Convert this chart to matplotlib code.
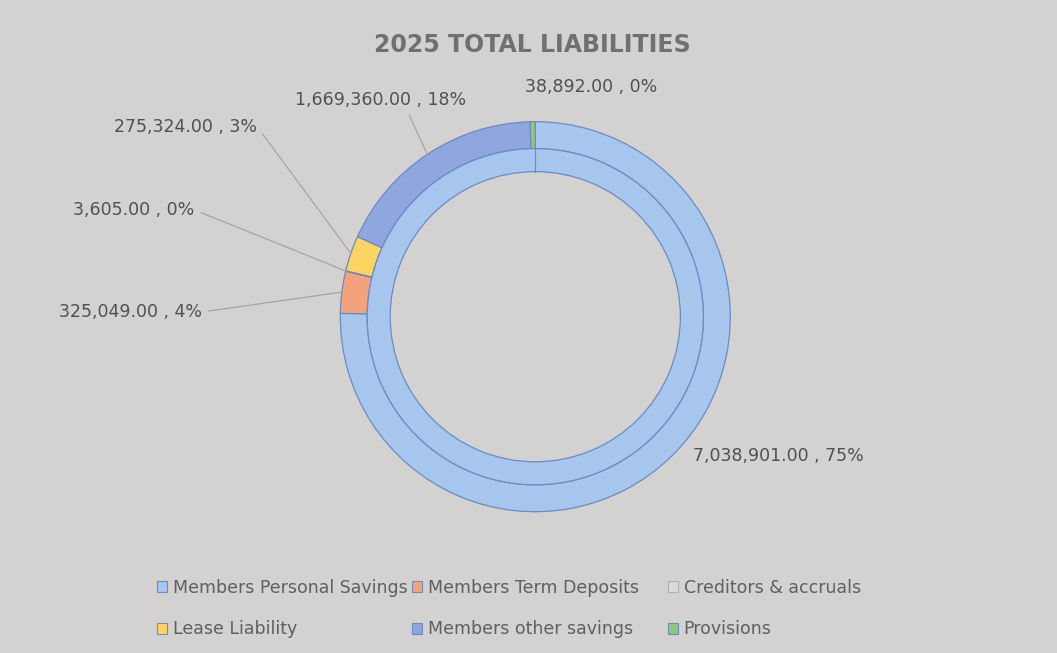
import matplotlib
matplotlib.use("Agg")
import matplotlib.pyplot as plt
from matplotlib.patches import Patch
import numpy as np

# Liability categories and their 2025 balances
categories = [
    "Members Personal Savings",
    "Members Term Deposits",
    "Creditors & accruals",
    "Lease Liability",
    "Members other savings",
    "Provisions",
]
values = [7038901.00, 325049.00, 3605.00, 275324.00, 1669360.00, 38892.00]
pct_labels = ["75%", "4%", "0%", "3%", "18%", "0%"]
colors = ["#a6c6ee", "#f3a27c", "#dcdada", "#fdd462", "#8fa6de", "#93c778"]

# Inner ring holds the overall total
inner_values = [sum(values)]

W, H, DPI = 1057, 653, 100
fig = plt.figure(figsize=(W / DPI, H / DPI), dpi=DPI)
bg = "#d4d1d1"
fig.patch.set_facecolor(bg)

# Axes covering the whole figure; 1 data unit = R pixels
cx, cy, R = 535.3, 316.7, 195.0
ax = fig.add_axes([0, 0, 1, 1])
ax.set_facecolor(bg)

edge = "#6a8bc4"
outer_w = 0.138
inner_r = 1.0 - outer_w
inner_w = 0.118

wedges, _ = ax.pie(values, radius=1.0, colors=colors, startangle=90,
                   counterclock=False,
                   wedgeprops=dict(width=outer_w, edgecolor=edge, linewidth=0.9))
inner_wedges, _ = ax.pie(inner_values, radius=inner_r, colors=[colors[0]],
                         startangle=90, counterclock=False,
                         wedgeprops=dict(width=inner_w, edgecolor=edge,
                                         linewidth=0.9))

# Seam of the full inner ring at its start angle
seam = np.deg2rad(inner_wedges[0].theta2)
ax.plot([(inner_r - inner_w) * np.cos(seam), inner_r * np.cos(seam)],
        [(inner_r - inner_w) * np.sin(seam), inner_r * np.sin(seam)],
        color=edge, lw=0.9)

ax.set_xlim(-cx / R, (W - cx) / R)
ax.set_ylim(-(H - cy) / R, cy / R)
ax.set_aspect("equal", adjustable="box")
ax.axis("off")

# Data labels: "value , percent" with grey leader lines
label_pos = [(1.249, -0.714), (-2.078, 0.024), (-2.058, 0.547),
             (-1.792, 0.973), (-0.792, 1.111), (0.284, 1.178)]
show_leader = [False, True, True, True, True, False]
leader_rel = [(0, 0.5), (1, 0.5), (1, 0.5), (1, 0.5), (0.65, 0.0), (0.5, 0)]
text_col = "#505050"
for w, v, p, pos, lead, rel in zip(wedges, values, pct_labels, label_pos,
                                   show_leader, leader_rel):
    mid = np.deg2rad((w.theta1 + w.theta2) / 2)
    xy = (np.cos(mid), np.sin(mid))
    txt = f"{v:,.2f} , {p}"
    arrow = dict(arrowstyle="-", color="#a5a5a5", lw=0.9,
                 shrinkA=3, shrinkB=0, relpos=rel) if lead else None
    ax.annotate(txt, xy=xy, xytext=pos, textcoords="data", ha="center",
                va="center", fontsize=12.5, color=text_col,
                arrowprops=arrow, annotation_clip=False)

fig.text(532 / W, 1 - 45 / H, "2025 TOTAL LIABILITIES", ha="center",
         va="center", fontsize=17, fontweight="bold", color="#707070")

# Legend laid out in three columns, two rows
handles = [Patch(facecolor=c, edgecolor=edge if i != 2 else "#b0b0b0", linewidth=0.8)
           for i, c in enumerate(colors)]
col_x = [157, 412, 668]
for k in range(3):
    idx = [k, k + 3]
    fig.legend([handles[i] for i in idx], [categories[i] for i in idx],
               loc="upper left", bbox_to_anchor=(col_x[k] / W, 1 - 579 / H),
               frameon=False, fontsize=12.5, labelcolor="#5f5f5f",
               handlelength=0.6, handleheight=0.6, handletextpad=0.3,
               labelspacing=1.35, borderpad=0, borderaxespad=0)

fig.savefig("out.png", dpi=DPI, facecolor=bg)
